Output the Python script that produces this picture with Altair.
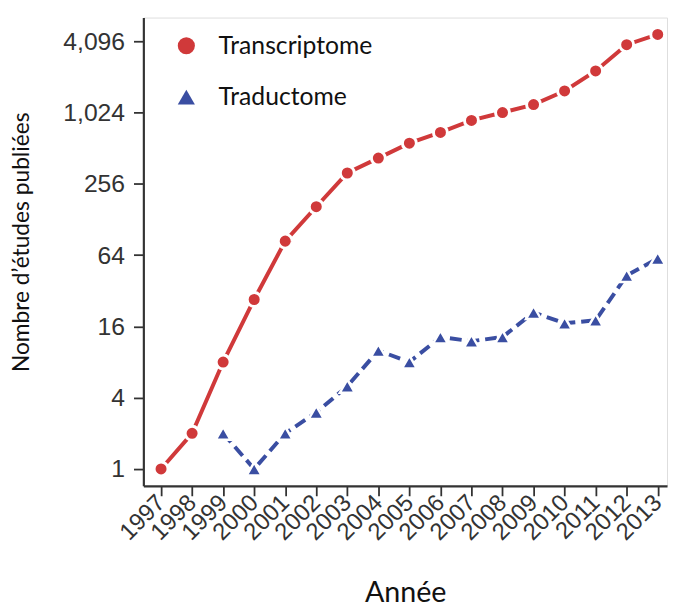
import altair as alt
import pandas as pd

years = list(range(1997, 2014))
transcriptome = [1, 2, 8, 27, 84, 164, 316, 422, 564, 696, 878, 1024, 1195, 1557, 2300, 3830, 4680]
trad_years = list(range(1999, 2014))
traductome = [2, 1, 2, 3, 5, 10, 8, 13, 12, 13, 21, 17, 18, 43, 60]

series_names = ["Transcriptome", "Traductome"]
colors = ["#d0393a", "#3a4ea2"]
shapes = ["circle", "triangle-up"]
y_ticks = [1, 4, 16, 64, 256, 1024, 4096]

TICK_FONT = "Liberation Sans"
TEXT_FONT = "Lato"

df = pd.concat([
    pd.DataFrame({"Année": years, "n": transcriptome, "Série": series_names[0]}),
    pd.DataFrame({"Année": trad_years, "n": traductome, "Série": series_names[1]}),
], ignore_index=True)

x_enc = alt.X(
    "Année:Q",
    scale=alt.Scale(domain=[1996.43, 2013.3], nice=False, zero=False),
    axis=alt.Axis(
        title="Année", values=years, format="d", labelAngle=315, labelOverlap=False,
        labelAlign="right", labelBaseline="middle", labelPadding=3, labelBound=False,
        labelFont=TICK_FONT, labelFontSize=24, labelColor="#333333",
        titleFont=TEXT_FONT, titleFontSize=29, titleFontWeight="normal", titleColor="#111111",
        titleY=117, titleBaseline="alphabetic",
        tickSize=10, tickWidth=1.8, tickColor="#333333",
        domainWidth=2.2, domainColor="#333333", grid=False,
    ),
)
y_enc = alt.Y(
    "n:Q",
    scale=alt.Scale(type="log", base=2, domain=[0.72, 6494], nice=False),
    axis=alt.Axis(
        title="Nombre d’études publiées", values=y_ticks, format=",d",
        labelFont=TICK_FONT, labelFontSize=25, labelColor="#333333", labelPadding=9,
        titleFont=TEXT_FONT, titleFontSize=23, titleFontWeight="normal", titleColor="#111111",
        titleX=-123, titleY=227, titleAngle=270, titleAlign="center", titleBaseline="middle",
        tickSize=10, tickWidth=1.8, tickColor="#333333",
        domainWidth=2.2, domainColor="#333333", grid=False,
    ),
)

color_enc = alt.Color(
    "Série:N", scale=alt.Scale(domain=series_names, range=colors),
    legend=alt.Legend(title=None, orient="none", legendX=31, legendY=16,
                      labelFont=TEXT_FONT, labelFontSize=25, labelColor="#111111",
                      symbolSize=300, rowPadding=26, labelOffset=20,
                      symbolStrokeWidth=0))
shape_enc = alt.Shape("Série:N", scale=alt.Scale(domain=series_names, range=shapes))

base = alt.Chart(df)
f_t = alt.datum["Série"] == series_names[0]
f_d = alt.datum["Série"] == series_names[1]

line_t = base.transform_filter(f_t).mark_line(
    color=colors[0], strokeWidth=4
).encode(x=x_enc, y=y_enc)

line_d = base.transform_filter(f_d).mark_line(
    color=colors[1], strokeWidth=4, strokeDash=[12, 6]
).encode(x=x_enc, y=y_enc)

pts_t = base.transform_filter(f_t).mark_point(
    filled=True, opacity=1, size=200, stroke="white", strokeWidth=3, strokeOpacity=1
).encode(x=x_enc, y=y_enc, color=color_enc, shape=shape_enc)

pts_d = base.transform_filter(f_d).mark_point(
    filled=True, opacity=1, size=230, stroke="white", strokeWidth=2.5, strokeOpacity=1
).encode(x=x_enc, y=y_enc, color=color_enc, shape=shape_enc)

chart = alt.layer(line_t, line_d, pts_t, pts_d).properties(
    width=530, height=474,
    autosize=alt.AutoSizeParams(type="none"),
    padding={"left": 137, "top": 6, "right": 2, "bottom": 124},
).configure_view(stroke=None).configure(background="white")

chart.save("out.html", embed_options={"renderer": "svg", "actions": False})
